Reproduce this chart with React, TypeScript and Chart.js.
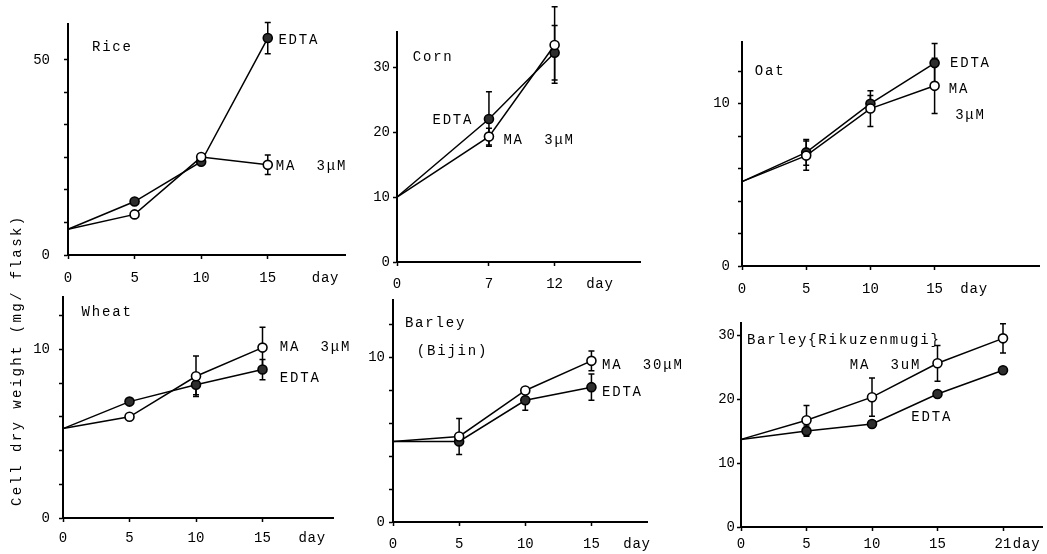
import React, { useEffect, useRef } from 'react';
import { Chart, registerables } from 'chart.js';

Chart.register(...registerables);

const FONT = "'Liberation Mono', 'DejaVu Sans Mono', monospace";

// ---------------- DATA ----------------
// Rice
const riceDays = [0, 5, 10, 15];
const riceMA = [6.6, 10.4, 25.1, 23.1];
const riceMAErr = [0, 0, 0, 2.5];
const riceEDTA = [6.6, 13.7, 23.9, 55.6];
const riceEDTAErr = [0, 0, 0, 4.0];
const riceXTicks = [0, 5, 10, 15];
const riceYTicks = [0, 8.333, 16.667, 25, 33.333, 41.667, 50];
const riceYLabels = [0, 50];

// Corn
const cornDays = [0, 7, 12];
const cornMA = [10, 19.3, 33.4];
const cornMAErr = [0, 1.3, 5.9];
const cornEDTA = [10, 22.0, 32.2];
const cornEDTAErr = [0, 4.2, 4.2];
const cornXTicks = [0, 7, 12];
const cornYTicks = [0, 10, 20, 30];
const cornYLabels = [0, 10, 20, 30];

// Oat
const oatDays = [0, 5, 10, 15];
const oatMA = [5.2, 6.8, 9.7, 11.1];
const oatMAErr = [0, 0.9, 1.1, 1.7];
const oatEDTA = [5.2, 7.0, 10.0, 12.5];
const oatEDTAErr = [0, 0.8, 0.5, 1.2];
const oatXTicks = [0, 5, 10, 15];
const oatYTicks = [0, 2, 4, 6, 8, 10, 12];
const oatYLabels = [0, 10];

// Wheat
const wheatDays = [0, 5, 10, 15];
const wheatMA = [5.3, 6.0, 8.4, 10.1];
const wheatMAErr = [0, 0, 1.2, 1.2];
const wheatEDTA = [5.3, 6.9, 7.9, 8.8];
const wheatEDTAErr = [0, 0, 0.6, 0.6];
const wheatXTicks = [0, 5, 10, 15];
const wheatYTicks = [0, 2, 4, 6, 8, 10, 12];
const wheatYLabels = [0, 10];

// Barley (Bijin)
const bijinDays = [0, 5, 10, 15];
const bijinMA = [4.9, 5.2, 8.0, 9.8];
const bijinMAErr = [0, 1.1, 0, 0.6];
const bijinEDTA = [4.9, 4.9, 7.4, 8.2];
const bijinEDTAErr = [0, 0, 0.6, 0.8];
const bijinXTicks = [0, 5, 10, 15];
const bijinYTicks = [0, 2, 4, 6, 8, 10, 12];
const bijinYLabels = [0, 10];

// Barley (Rikuzenmugi)
const rikuDays = ['0', '5', '10', '15', '21'];
const rikuMA = [13.7, 16.7, 20.3, 25.6, 29.5];
const rikuMAErr = [0, 2.3, 3.0, 2.8, 2.3];
const rikuEDTA = [13.7, 15.0, 16.1, 20.8, 24.5];
const rikuEDTAErr = [0, 0.8, 0, 0, 0];
const rikuYTicks = [0, 10, 20, 30];
const rikuYLabels = [0, 10, 20, 30];

const yAxisTitle = 'Cell dry weight (mg/ flask)';

// ---------------- LAYOUT ----------------
const Y_AXIS_W = 60;

type Note = { text: string; x: number; y: number };

interface PanelDef {
  id: string;
  xType: 'linear' | 'category';
  xs?: number[];
  labels?: string[];
  xTicks?: number[];
  yTicks: number[];
  yLabels: number[];
  ma: number[];
  maErr: number[];
  edta: number[];
  edtaErr: number[];
  xMax?: number;
  yMax: number;
  box: { left: number; top: number; right: number; bottom: number };
  padTop: number;
  padRight: number;
  xAxisH: number;
  yGap: number;
  xPad: number;
  axisExtend: number;
  notes: Note[];
  dayAt: number;
  yTitleAt?: number;
}

const panels: PanelDef[] = [
  {
    id: 'rice', xType: 'linear', xs: riceDays, xTicks: riceXTicks, yTicks: riceYTicks, yLabels: riceYLabels,
    ma: riceMA, maErr: riceMAErr, edta: riceEDTA, edtaErr: riceEDTAErr, xMax: 20.8, yMax: 59.1,
    box: { left: 68, top: 22, right: 345, bottom: 255 }, padTop: 20, padRight: 10, xAxisH: 40, yGap: 14, xPad: 11, axisExtend: 0,
    notes: [
      { text: 'Rice', x: 1.8, y: 53.3 },
      { text: 'EDTA', x: 15.8, y: 55.1 },
      { text: 'MA  3μM', x: 15.6, y: 22.8 },
    ],
    dayAt: 18.3,
  },
  {
    id: 'corn', xType: 'linear', xs: cornDays, xTicks: cornXTicks, yTicks: cornYTicks, yLabels: cornYLabels,
    ma: cornMA, maErr: cornMAErr, edta: cornEDTA, edtaErr: cornEDTAErr, xMax: 18.5, yMax: 35.4,
    box: { left: 397, top: 32, right: 640, bottom: 262 }, padTop: 30, padRight: 10, xAxisH: 40, yGap: 3, xPad: 10, axisExtend: 0,
    notes: [
      { text: 'Corn', x: 1.2, y: 31.5 },
      { text: 'EDTA', x: 2.7, y: 21.8 },
      { text: 'MA  3μM', x: 8.1, y: 18.8 },
    ],
    dayAt: 14.4,
  },
  {
    id: 'oat', xType: 'linear', xs: oatDays, xTicks: oatXTicks, yTicks: oatYTicks, yLabels: oatYLabels,
    ma: oatMA, maErr: oatMAErr, edta: oatEDTA, edtaErr: oatEDTAErr, xMax: 23.2, yMax: 13.8,
    box: { left: 742, top: 42, right: 1043, bottom: 266 }, padTop: 30, padRight: 3, xAxisH: 40, yGap: 8, xPad: 11, axisExtend: 0,
    notes: [
      { text: 'Oat', x: 1.0, y: 12.0 },
      { text: 'EDTA', x: 16.2, y: 12.5 },
      { text: 'MA', x: 16.1, y: 10.9 },
      { text: '3μM', x: 16.6, y: 9.3 },
    ],
    dayAt: 17.0,
  },
  {
    id: 'wheat', xType: 'linear', xs: wheatDays, xTicks: wheatXTicks, yTicks: wheatYTicks, yLabels: wheatYLabels,
    ma: wheatMA, maErr: wheatMAErr, edta: wheatEDTA, edtaErr: wheatEDTAErr, xMax: 20.3, yMax: 13.1,
    box: { left: 63, top: 297, right: 333, bottom: 518 }, padTop: 90, padRight: 30, xAxisH: 34, yGap: 9, xPad: 8, axisExtend: 0,
    notes: [
      { text: 'Wheat', x: 1.4, y: 12.2 },
      { text: 'MA  3μM', x: 16.3, y: 10.1 },
      { text: 'EDTA', x: 16.3, y: 8.3 },
    ],
    dayAt: 17.7,
    yTitleAt: 9.35,
  },
  {
    id: 'bijin', xType: 'linear', xs: bijinDays, xTicks: bijinXTicks, yTicks: bijinYTicks, yLabels: bijinYLabels,
    ma: bijinMA, maErr: bijinMAErr, edta: bijinEDTA, edtaErr: bijinEDTAErr, xMax: 19.2, yMax: 13.5,
    box: { left: 393, top: 300, right: 647, bottom: 522 }, padTop: 25, padRight: 45, xAxisH: 32, yGap: 4, xPad: 10, axisExtend: 0,
    notes: [
      { text: 'Barley', x: 0.9, y: 12.1 },
      { text: '(Bijin)', x: 1.8, y: 10.4 },
      { text: 'MA  30μM', x: 15.8, y: 9.5 },
      { text: 'EDTA', x: 15.8, y: 7.9 },
    ],
    dayAt: 17.4,
  },
  {
    id: 'riku', xType: 'category', labels: rikuDays, yTicks: rikuYTicks, yLabels: rikuYLabels,
    ma: rikuMA, maErr: rikuMAErr, edta: rikuEDTA, edtaErr: rikuEDTAErr, yMax: 31.9,
    box: { left: 741, top: 323, right: 1003, bottom: 527 }, padTop: 25, padRight: 40, xAxisH: 27, yGap: 2, xPad: 5, axisExtend: 40,
    notes: [
      { text: 'Barley{Rikuzenmugi}', x: 0.09, y: 29.2 },
      { text: 'MA  3uM', x: 1.66, y: 25.3 },
      { text: 'EDTA', x: 2.6, y: 17.2 },
    ],
    dayAt: 4.15,
  },
];

function Panel({ def }: { def: PanelDef }) {
  const ref = useRef<HTMLCanvasElement | null>(null);
  const width = Y_AXIS_W + (def.box.right - def.box.left) + def.padRight;
  const height = def.padTop + (def.box.bottom - def.box.top) + def.xAxisH;

  useEffect(() => {
    if (!ref.current) return;
    const pts = (vals: number[]) =>
      def.xType === 'linear' ? vals.map((v, i) => ({ x: (def.xs as number[])[i], y: v })) : vals;
    const radii = (vals: number[]) => vals.map((_, i) => (i === 0 ? 0 : 4.5));

    const overlay = {
      id: 'overlay_' + def.id,
      beforeDatasetsDraw(chart: any) {
        const ctx = chart.ctx;
        const ys = chart.scales.y;
        ctx.save();
        ctx.strokeStyle = '#000';
        ctx.lineWidth = 1.5;
        chart.data.datasets.forEach((ds: any, di: number) => {
          const meta = chart.getDatasetMeta(di);
          const vals: number[] = ds.vals;
          const errs: number[] = ds.errs;
          meta.data.forEach((el: any, j: number) => {
            const e = errs[j];
            if (!e) return;
            const x = el.x;
            const y1 = ys.getPixelForValue(vals[j] + e);
            const y2 = ys.getPixelForValue(vals[j] - e);
            ctx.beginPath();
            ctx.moveTo(x, y1); ctx.lineTo(x, y2);
            ctx.moveTo(x - 3, y1); ctx.lineTo(x + 3, y1);
            ctx.moveTo(x - 3, y2); ctx.lineTo(x + 3, y2);
            ctx.stroke();
          });
        });
        ctx.restore();
      },
      afterDraw(chart: any) {
        const ctx = chart.ctx;
        const xs = chart.scales.x;
        const ys = chart.scales.y;
        const area = chart.chartArea;
        ctx.save();
        if (def.axisExtend) {
          ctx.strokeStyle = '#000';
          ctx.lineWidth = 2;
          ctx.beginPath();
          ctx.moveTo(area.right, area.bottom);
          ctx.lineTo(area.right + def.axisExtend, area.bottom);
          ctx.stroke();
        }
        ctx.fillStyle = '#000';
        ctx.font = `14px ${FONT}`;
        try { (ctx as any).letterSpacing = '1.8px'; } catch (e) { /* ignore */ }
        ctx.textAlign = 'left';
        ctx.textBaseline = 'middle';
        def.notes.forEach((n) => {
          ctx.fillText(n.text, xs.getPixelForValue(n.x), ys.getPixelForValue(n.y));
        });
        ctx.textBaseline = 'top';
        try { (ctx as any).letterSpacing = '0.8px'; } catch (e) { /* ignore */ }
        ctx.fillText('day', xs.getPixelForValue(def.dayAt), area.bottom + 4 + def.xPad + 1);
        if (def.yTitleAt !== undefined) {
          try { (ctx as any).letterSpacing = '2.4px'; } catch (e) { /* ignore */ }
          ctx.translate(area.left - 46, ys.getPixelForValue(def.yTitleAt));
          ctx.rotate(-Math.PI / 2);
          ctx.textAlign = 'center';
          ctx.textBaseline = 'middle';
          ctx.fillText(yAxisTitle, 0, 0);
        }
        ctx.restore();
      },
    };

    const tickFont = { family: FONT, size: 14 };
    const grid = { drawOnChartArea: false, drawTicks: true, tickLength: 4, tickColor: '#000', tickWidth: 1.5, offset: false };
    const border = { display: true, color: '#000', width: 2 };

    const xScale: any =
      def.xType === 'linear'
        ? {
            type: 'linear', min: 0, max: def.xMax,
            afterBuildTicks: (s: any) => { s.ticks = (def.xTicks as number[]).map((v) => ({ value: v })); },
            afterFit: (s: any) => { s.height = def.xAxisH; },
            ticks: { autoSkip: false, maxRotation: 0, padding: def.xPad, font: tickFont, color: '#000', callback: (v: any) => String(v) },
            grid, border,
          }
        : {
            type: 'category', offset: false,
            afterFit: (s: any) => { s.height = def.xAxisH; },
            ticks: { autoSkip: false, maxRotation: 0, padding: def.xPad, font: tickFont, color: '#000' },
            grid, border,
          };

    const chart = new Chart(ref.current, {
      type: 'line',
      data: {
        labels: def.xType === 'category' ? def.labels : undefined,
        datasets: [
          {
            label: 'MA', data: pts(def.ma) as any, vals: def.ma, errs: def.maErr,
            borderColor: '#000', borderWidth: 1.5, tension: 0, clip: false as any,
            pointRadius: radii(def.ma), pointBackgroundColor: '#fff', pointBorderColor: '#000', pointBorderWidth: 1.6,
          } as any,
          {
            label: 'EDTA', data: pts(def.edta) as any, vals: def.edta, errs: def.edtaErr,
            borderColor: '#000', borderWidth: 1.5, tension: 0, clip: false as any,
            pointRadius: radii(def.edta), pointBackgroundColor: '#2e2e2e', pointBorderColor: '#000', pointBorderWidth: 1.6,
          } as any,
        ],
      },
      options: {
        animation: false,
        responsive: false,
        events: [],
        layout: { padding: { top: def.padTop, right: def.padRight, left: 0, bottom: 0 } },
        plugins: { legend: { display: false }, tooltip: { enabled: false }, title: { display: false } },
        scales: {
          x: xScale,
          y: {
            type: 'linear', min: 0, max: def.yMax,
            afterBuildTicks: (s: any) => { s.ticks = def.yTicks.map((v) => ({ value: v })); },
            afterFit: (s: any) => { s.width = Y_AXIS_W; },
            ticks: {
              autoSkip: false, padding: def.yGap, font: tickFont, color: '#000',
              callback: (v: any) => (def.yLabels.some((l) => Math.abs(l - Number(v)) < 1e-6) ? String(Math.round(Number(v))) : ''),
            },
            grid, border,
          },
        },
      } as any,
      plugins: [overlay],
    });
    return () => chart.destroy();
  }, [def]);

  return (
    <canvas
      ref={ref}
      width={width}
      height={height}
      style={{ position: 'absolute', left: def.box.left - Y_AXIS_W, top: def.box.top - def.padTop, width, height }}
    />
  );
}

export default function App() {
  return (
    <div style={{ position: 'absolute', left: 0, top: 0, width: 1047, height: 554, overflow: 'hidden', background: '#fff' }}>
      {panels.map((p) => (
        <Panel key={p.id} def={p} />
      ))}
    </div>
  );
}
